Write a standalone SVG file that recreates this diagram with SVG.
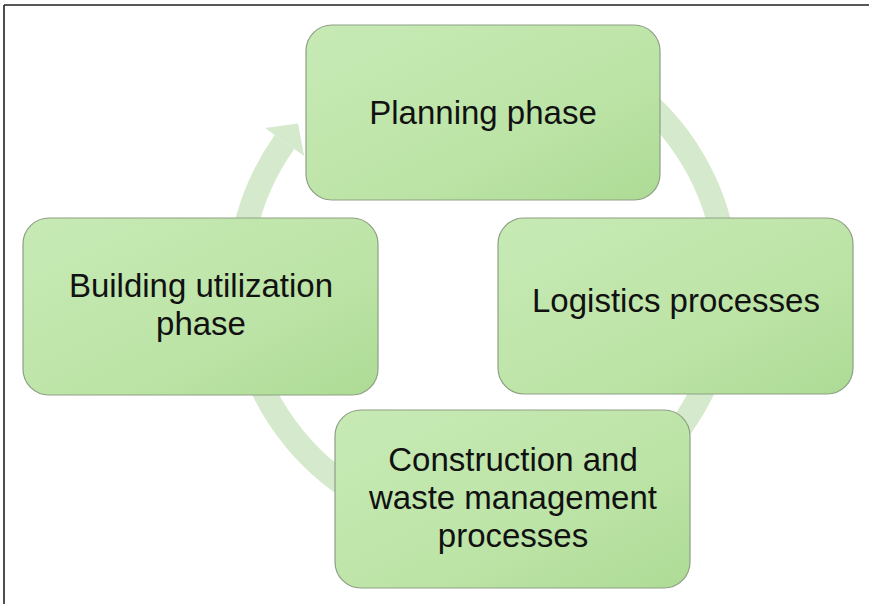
<svg xmlns="http://www.w3.org/2000/svg" width="869" height="604" viewBox="0 0 869 604">
  <style>
    .box { stroke: #8d9f84; stroke-width: 1.2; fill: url(#boxFill); }
    .label { font-family: "Liberation Sans", Arial, sans-serif; font-size: 33px; fill: #111; text-anchor: middle; }
    .ring { fill: none; stroke: #d5eacc; stroke-width: 24; stroke-linecap: butt; }
    .ringHead { fill: #d5eacc; }
    .frame { stroke: #222; stroke-width: 1.6; fill: none; }
  </style>
  <defs>
    <linearGradient id="boxFill" x1="0" y1="0" x2="1" y2="1">
      <stop offset="0" stop-color="#c7eab5"/>
      <stop offset="0.6" stop-color="#bde4a7"/>
      <stop offset="1" stop-color="#addb95"/>
    </linearGradient>
  </defs>

  <rect width="869" height="604" fill="#ffffff"/>
  <!-- frame: top and left rules -->
  <path class="frame" d="M4 5 H869 M4 5 V604"/>

  <!-- connectors: circular arrow running clockwise behind the nodes -->
  <g id="connectors">
    <path class="ring" d="M525.4 43.7 A244 244 0 1 1 284.6 142.0"/>
    <polygon class="ringHead" points="265.1,128.0 298.0,123.5 304.1,155.9"/>
  </g>

  <g id="node-planning">
    <rect class="box" x="306" y="25" width="354" height="175" rx="26"/>
    <text class="label" x="483" y="124">Planning phase</text>
  </g>

  <g id="node-building">
    <rect class="box" x="23" y="218" width="355" height="177" rx="26"/>
    <text class="label" x="201" y="297">Building utilization</text>
    <text class="label" x="201" y="335">phase</text>
  </g>

  <g id="node-logistics">
    <rect class="box" x="498" y="218" width="355" height="176" rx="26"/>
    <text class="label" x="676" y="312">Logistics processes</text>
  </g>

  <g id="node-construction">
    <rect class="box" x="335" y="410" width="355" height="178" rx="26"/>
    <text class="label" x="513" y="471">Construction and</text>
    <text class="label" x="513" y="509">waste management</text>
    <text class="label" x="513" y="547">processes</text>
  </g>
</svg>
